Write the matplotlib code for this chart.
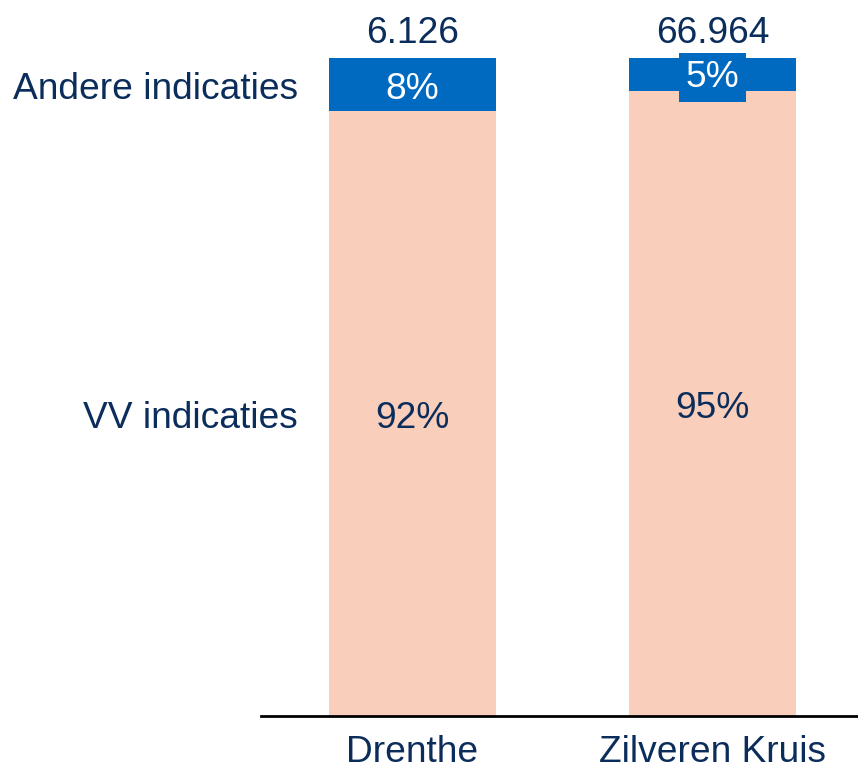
import matplotlib.pyplot as plt

plt.rcParams['font.family'] = ['Liberation Sans', 'DejaVu Sans']

regions = ["Drenthe", "Zilveren Kruis"]
segments = ["VV indicaties", "Andere indicaties"]
vv = [92, 95]
andere = [8, 5]
totals = ["6.126", "66.964"]

navy = "#0B2D5B"
blue = "#006AC1"
peach = "#F9CEBB"

fig = plt.figure(figsize=(8.58, 7.69), dpi=100)
ax = fig.add_axes([261 / 858, 1 - 716 / 769, (858 - 261) / 858, 658 / 769])

x = list(range(len(regions)))
w = 0.557
ax.bar(x, vv, width=w, color=peach)
ax.bar(x, andere, width=w, bottom=vv, color=blue)

fs = 26.7
dy = -0.8
for i in x:
    ax.text(i, vv[i] / 2 + dy, f"{vv[i]}%", ha="center", va="center", fontsize=fs, color=navy)
    top = vv[i] + andere[i] / 2
    if andere[i] >= 7:
        ax.text(i, top + dy, f"{andere[i]}%", ha="center", va="center", fontsize=fs, color="white")
    else:
        ax.text(i, top - 0.45, f"{andere[i]}%", ha="center", va="center", fontsize=fs, color="white",
                bbox=dict(boxstyle="square,pad=0.18", fc=blue, ec="none"))
    ax.text(i, 100 + 1.0, totals[i], ha="center", va="bottom", fontsize=fs, color=navy)

# segment names at the left, aligned to the first bar
ax.text(-0.382, vv[0] / 2 + dy, segments[0], ha="right", va="center", fontsize=fs, color=navy)
ax.text(-0.382, vv[0] + andere[0] / 2 + dy, segments[1], ha="right", va="center", fontsize=fs, color=navy)

ax.set_xlim(-0.505, 1.485)
ax.set_ylim(0, 100)
ax.set_xticks(x)
ax.set_xticklabels(regions, fontsize=fs, color=navy)
ax.tick_params(axis="x", length=0, pad=14)
ax.set_yticks([])
for s in ["top", "right", "left"]:
    ax.spines[s].set_visible(False)
ax.spines["bottom"].set_linewidth(2)

fig.savefig("out.png", dpi=100)
